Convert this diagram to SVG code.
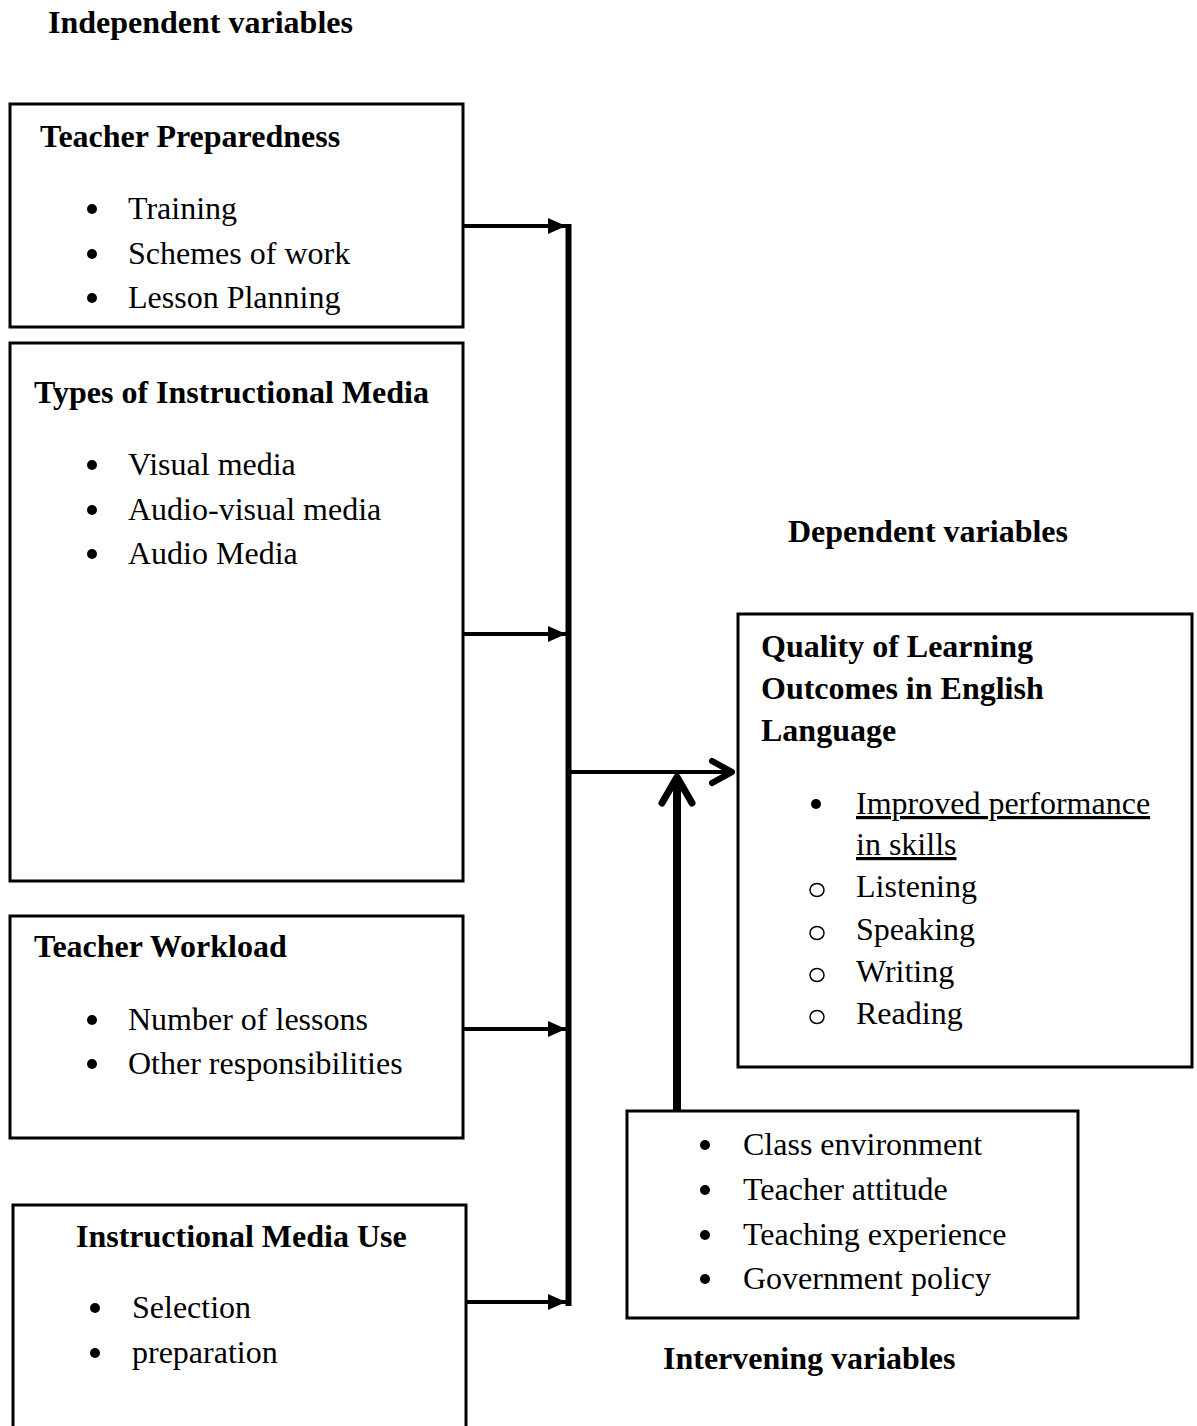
<svg xmlns="http://www.w3.org/2000/svg" width="1197" height="1426" viewBox="0 0 1197 1426">
<style>
text{font-family:"Liberation Serif","Times New Roman",serif;font-size:32px;fill:#000}
.b{font-weight:bold}
.box{fill:#fff;stroke:#000;stroke-width:3}
.dot{fill:#000}
.ob{fill:none;stroke:#000;stroke-width:1.5}
.u{text-decoration:underline}
.conn{stroke:#000;fill:none}
</style>
<defs>
<marker id="tri" viewBox="0 0 18 18" markerWidth="18" markerHeight="18" refX="18" refY="9" markerUnits="userSpaceOnUse" orient="auto">
<path d="M0,1 L18,9 L0,17 Z" fill="#000"/>
</marker>
</defs>
<rect width="1197" height="1426" fill="#fff"/>
<text class="b" x="48" y="33">Independent variables</text>
<text class="b" x="788" y="542">Dependent variables</text>
<text class="b" x="663" y="1369">Intervening variables</text>

<g id="teacher-preparedness">
<rect class="box" x="10" y="104" width="453" height="223"/>
<text class="b" x="40" y="147">Teacher Preparedness</text>
<circle class="dot" cx="92" cy="209" r="5"/><text x="128" y="219">Training</text>
<circle class="dot" cx="92" cy="254" r="5"/><text x="128" y="264">Schemes of work</text>
<circle class="dot" cx="92" cy="298" r="5"/><text x="128" y="308">Lesson Planning</text>
</g>

<g id="types-of-media">
<rect class="box" x="10" y="343" width="453" height="538"/>
<text class="b" x="34" y="403">Types of Instructional Media</text>
<circle class="dot" cx="92" cy="465" r="5"/><text x="128" y="475">Visual media</text>
<circle class="dot" cx="92" cy="510" r="5"/><text x="128" y="520">Audio-visual media</text>
<circle class="dot" cx="92" cy="554" r="5"/><text x="128" y="564">Audio Media</text>
</g>

<g id="teacher-workload">
<rect class="box" x="10" y="916" width="453" height="222"/>
<text class="b" x="34" y="957">Teacher Workload</text>
<circle class="dot" cx="92" cy="1020" r="5"/><text x="128" y="1030">Number of lessons</text>
<circle class="dot" cx="92" cy="1064" r="5"/><text x="128" y="1074">Other responsibilities</text>
</g>

<g id="media-use">
<rect class="box" x="13" y="1205" width="453" height="240"/>
<text class="b" x="76" y="1247">Instructional Media Use</text>
<circle class="dot" cx="95" cy="1308" r="5"/><text x="132" y="1318">Selection</text>
<circle class="dot" cx="95" cy="1353" r="5"/><text x="132" y="1363">preparation</text>
</g>

<g id="quality-outcomes">
<rect class="box" x="738" y="614" width="454" height="453"/>
<text class="b" x="761" y="657">Quality of Learning</text>
<text class="b" x="761" y="699">Outcomes in English</text>
<text class="b" x="761" y="741">Language</text>
<circle class="dot" cx="816" cy="804" r="5"/><text class="u" x="856" y="814">Improved performance</text>
<text class="u" x="856" y="855">in skills</text>
<ellipse class="ob" cx="817" cy="890" rx="7" ry="6.5"/><text x="856" y="897">Listening</text>
<ellipse class="ob" cx="817" cy="933" rx="7" ry="6.5"/><text x="856" y="940">Speaking</text>
<ellipse class="ob" cx="817" cy="975" rx="7" ry="6.5"/><text x="856" y="982">Writing</text>
<ellipse class="ob" cx="817" cy="1017" rx="7" ry="6.5"/><text x="856" y="1024">Reading</text>
</g>

<g id="intervening">
<rect class="box" x="627" y="1111" width="451" height="207"/>
<circle class="dot" cx="705" cy="1145" r="5"/><text x="743" y="1155">Class environment</text>
<circle class="dot" cx="705" cy="1190" r="5"/><text x="743" y="1200">Teacher attitude</text>
<circle class="dot" cx="705" cy="1235" r="5"/><text x="743" y="1245">Teaching experience</text>
<circle class="dot" cx="705" cy="1279" r="5"/><text x="743" y="1289">Government policy</text>
</g>

<g id="connectors">
<line class="conn" x1="568.5" y1="224" x2="568.5" y2="1306" stroke-width="6"/>
<line class="conn" x1="463" y1="226" x2="566" y2="226" stroke-width="4" marker-end="url(#tri)"/>
<line class="conn" x1="463" y1="634" x2="566" y2="634" stroke-width="4" marker-end="url(#tri)"/>
<line class="conn" x1="463" y1="1029" x2="566" y2="1029" stroke-width="4" marker-end="url(#tri)"/>
<line class="conn" x1="466" y1="1302" x2="566" y2="1302" stroke-width="4" marker-end="url(#tri)"/>
<line class="conn" x1="570" y1="772" x2="733" y2="772" stroke-width="4"/>
<polyline class="conn" points="712,761 732,772 712,783" stroke-width="6" stroke-linecap="round" stroke-linejoin="round"/>
<line class="conn" x1="677" y1="1111" x2="677" y2="778" stroke-width="8"/>
<polyline class="conn" points="662,803 677,777 692,803" stroke-width="7" stroke-linecap="round" stroke-linejoin="round"/>
</g>
</svg>
